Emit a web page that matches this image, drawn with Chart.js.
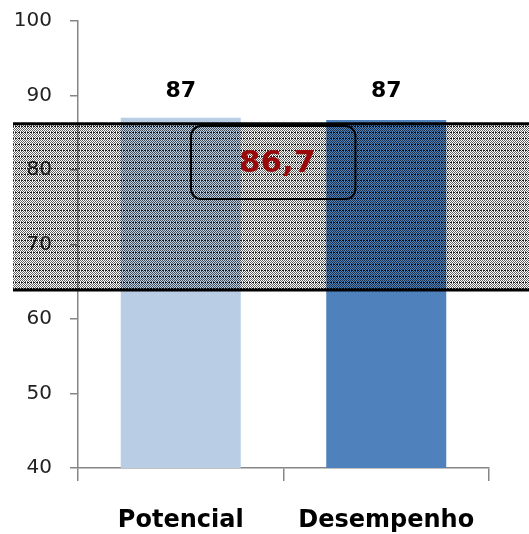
<!DOCTYPE html>
<html>
<head>
<meta charset="utf-8">
<script src="https://cdn.jsdelivr.net/npm/chart.js@4"></script>
<style>
  html, body { margin: 0; padding: 0; background: #fff; }
  #wrap { width: 529px; height: 534px; }
</style>
</head>
<body>
<div id="wrap"><canvas id="chart" width="529" height="534"></canvas></div>
<script>
// chart values
const categories = ['Potencial', 'Desempenho'];
const scores = [87, 86.7];
const barColors = ['#B9CDE5', '#4F81BD'];
const yTicks = [40, 50, 60, 70, 80, 90, 100];

// shaded band (value range) and callout text
const bandRange = [63.9, 86.2];
const calloutText = '86,7';
const calloutBox = { x: [0.05, 0.85], y: [76.1, 85.9] };

// build the dotted / dashed fill used by the band
const makePattern = (ctx) => {
  const c = document.createElement('canvas');
  c.width = 6;
  c.height = 6;
  const p = c.getContext('2d');
  for (let y = 0; y < 6; y++) {
    for (let x = 0; x < 6; x++) {
      if (y === 0) {
        if (x % 3 !== 2) {
          p.fillStyle = 'rgba(0,0,0,0.9)';
          p.fillRect(x, y, 1, 1);
        }
      } else if ((x + y) % 2 === 0) {
        p.fillStyle = 'rgba(0,0,0,0.62)';
        p.fillRect(x, y, 1, 1);
      }
    }
  }
  return ctx.createPattern(c, 'repeat');
};

const overlayPlugin = {
  id: 'overlay',
  afterDatasetsDraw(chart) {
    const { ctx, scales: { x, y } } = chart;
    const meta = chart.getDatasetMeta(0);

    // value labels above bars
    ctx.save();
    ctx.font = 'bold 22px "DejaVu Sans"';
    ctx.fillStyle = '#000';
    ctx.textAlign = 'center';
    ctx.textBaseline = 'alphabetic';
    meta.data.forEach((bar, i) => {
      const v = Math.round(scores[i]);
      ctx.fillText(v.toString(), bar.x, y.getPixelForValue(v) - 21);
    });

    // band
    const top = y.getPixelForValue(bandRange[1]);
    const bottom = y.getPixelForValue(bandRange[0]);
    ctx.fillStyle = makePattern(ctx);
    ctx.fillRect(13, top, chart.width - 13, bottom - top);
    ctx.strokeStyle = '#000';
    ctx.lineWidth = 3;
    ctx.beginPath();
    ctx.moveTo(13, top);
    ctx.lineTo(chart.width, top);
    ctx.moveTo(13, bottom);
    ctx.lineTo(chart.width, bottom);
    ctx.stroke();

    // callout box
    const bx0 = x.getPixelForValue(calloutBox.x[0]);
    const bx1 = x.getPixelForValue(calloutBox.x[1]);
    const by0 = y.getPixelForValue(calloutBox.y[1]);
    const by1 = y.getPixelForValue(calloutBox.y[0]);
    ctx.lineWidth = 2;
    ctx.beginPath();
    ctx.roundRect(bx0, by0, bx1 - bx0, by1 - by0, 10);
    ctx.stroke();
    ctx.font = 'bold 31px "DejaVu Sans"';
    ctx.fillStyle = '#9B0A0A';
    ctx.textBaseline = 'middle';
    ctx.fillText(calloutText, (bx0 + bx1) / 2 + 4, (by0 + by1) / 2 + 1);
    ctx.restore();
  }
};

new Chart(document.getElementById('chart'), {
  type: 'bar',
  data: {
    labels: categories,
    datasets: [{
      data: scores,
      backgroundColor: barColors,
      borderWidth: 0,
      categoryPercentage: 1,
      barPercentage: 0.584,
    }],
  },
  options: {
    responsive: false,
    animation: false,
    devicePixelRatio: 1,
    layout: { padding: { top: 21, right: 40, left: 0, bottom: 0 } },
    plugins: {
      legend: { display: false },
      tooltip: { enabled: false },
    },
    scales: {
      x: {
        grid: {
          offset: true,
          drawOnChartArea: false,
          drawTicks: true,
          tickLength: 13,
          color: '#868686',
          lineWidth: 1.5,
        },
        border: { color: '#868686', width: 1.5 },
        ticks: {
          color: '#000',
          font: { family: 'DejaVu Sans', size: 24, weight: 'bold' },
          padding: 25,
        },
        afterFit: (scale) => { scale.height = 66; },
      },
      y: {
        min: 40,
        max: 100,
        afterBuildTicks: (scale) => { scale.ticks = yTicks.map(v => ({ value: v })); },
        grid: {
          drawOnChartArea: false,
          drawTicks: true,
          tickLength: 8,
          color: '#868686',
          lineWidth: 1.5,
        },
        border: { color: '#868686', width: 1.5 },
        ticks: {
          color: '#222',
          font: { family: 'DejaVu Sans', size: 20 },
          padding: 18,
        },
        afterFit: (scale) => {
          scale.width = 78;
          scale.paddingTop = 10;
          scale.paddingBottom = 10;
        },
      },
    },
  },
  plugins: [overlayPlugin],
});
</script>
</body>
</html>
